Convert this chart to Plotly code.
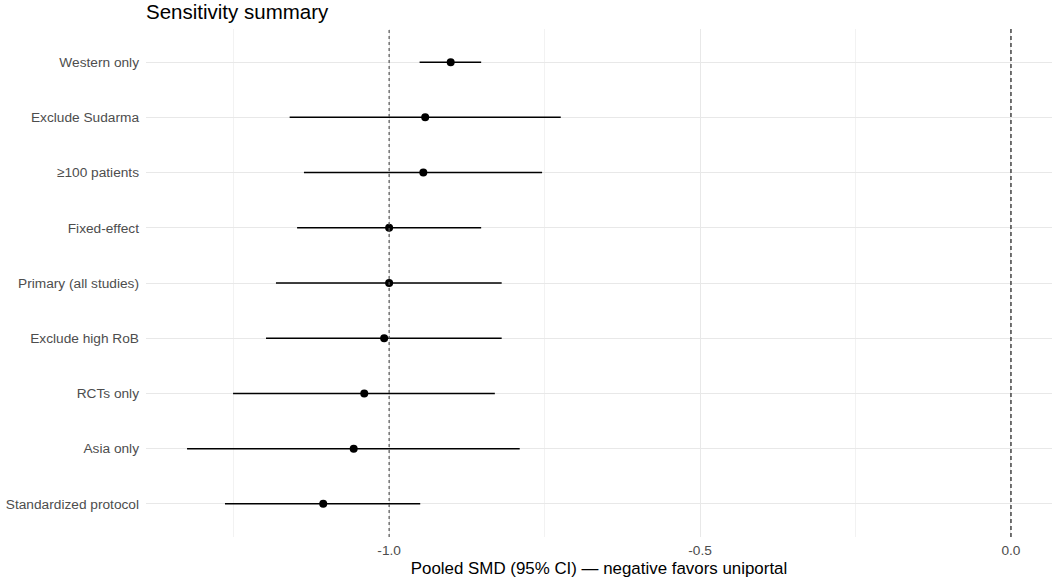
import plotly.graph_objects as go

labels = ["Standardized protocol", "Asia only", "RCTs only", "Exclude high RoB",
          "Primary (all studies)", "Fixed-effect", "≥100 patients",
          "Exclude Sudarma", "Western only"]
est = [-1.106, -1.057, -1.040, -1.008, -1.000, -1.000, -0.945, -0.942, -0.901]
lo = [-1.264, -1.325, -1.251, -1.198, -1.182, -1.148, -1.137, -1.160, -0.951]
hi = [-0.950, -0.790, -0.830, -0.819, -0.819, -0.852, -0.754, -0.724, -0.852]
pooled = -1.0
null_value = 0.0

font_family = "Liberation Sans, Arial, sans-serif"

W, H = 1052, 582

fig = go.Figure()
fig.add_trace(go.Scatter(
    x=est, y=labels, mode="markers",
    marker=dict(color="black", size=8),
    error_x=dict(type="data", symmetric=False,
                 array=[h - e for h, e in zip(hi, est)],
                 arrayminus=[e - l for e, l in zip(est, lo)],
                 width=0, thickness=1.5, color="black"),
    showlegend=False, hoverinfo="skip",
))

fig.add_shape(type="line", x0=pooled, x1=pooled, y0=0, y1=1, yref="paper",
              line=dict(color="#555555", width=1.2, dash="dot"), layer="above")
fig.add_shape(type="line", x0=null_value, x1=null_value, y0=0, y1=1, yref="paper",
              line=dict(color="#444444", width=1.5, dash="4px,3px"), layer="above")

fig.update_layout(
    width=W, height=H,
    margin=dict(l=146, r=0, t=29, b=45),
    paper_bgcolor="white", plot_bgcolor="white",
    font=dict(family=font_family, color="#4d4d4d", size=13.7),
    title=dict(text="Sensitivity summary", x=146/W, xref="container", xanchor="left",
               y=1 - 12/H, yref="container", yanchor="middle",
               font=dict(size=20.5, color="black", family=font_family)),
    xaxis=dict(range=[-1.391, 0.066], tickvals=[-1.0, -0.5, 0.0],
               ticktext=["-1.0", "-0.5", "0.0"], automargin=False,
               showgrid=True, gridcolor="#e8e8e8", gridwidth=1.1,
               minor=dict(tickvals=[-1.25, -0.75, -0.25], showgrid=True,
                          gridcolor="#f2f2f2", gridwidth=0.6),
               zeroline=False, showline=False, ticks="", ticklabelstandoff=3,
               tickfont=dict(size=13.7, color="#4d4d4d"),
               title=dict(text="Pooled SMD (95% CI) — negative favors uniportal",
                          font=dict(size=16.9, color="black"), standoff=5)),
    yaxis=dict(type="category", categoryorder="array", categoryarray=labels,
               range=[-0.6, 8.6], showgrid=True, gridcolor="#e8e8e8", gridwidth=1.1,
               zeroline=False, showline=False, ticks="", ticklabelstandoff=6,
               automargin=False, tickfont=dict(size=13.7, color="#4d4d4d")),
)

fig.write_html("out.html", config={"displayModeBar": False},
               post_script="document.body.style.margin='0';")
